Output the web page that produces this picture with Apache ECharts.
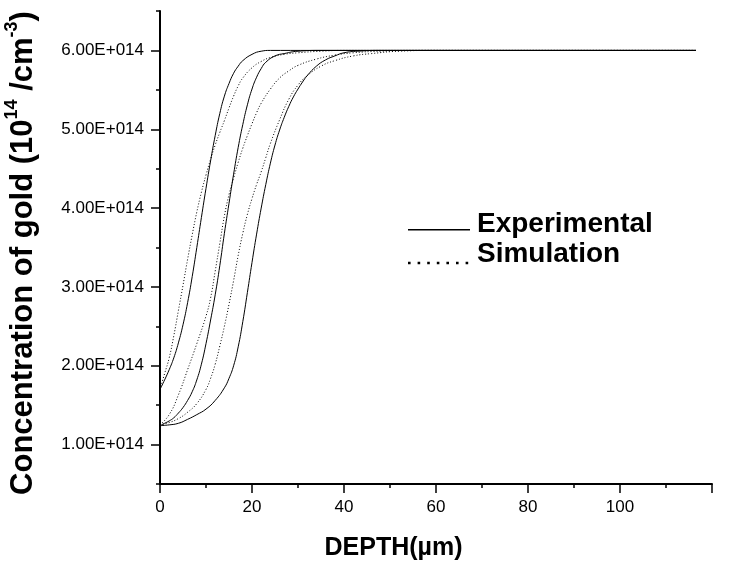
<!DOCTYPE html>
<html>
<head>
<meta charset="utf-8">
<script src="https://cdn.jsdelivr.net/npm/echarts@6/dist/echarts.min.js"></script>
<style>html,body{margin:0;padding:0;background:#fff}#c{width:744px;height:565px}</style>
</head>
<body>
<div id="c"></div>
<script>
// ---- data (concentration in units of 1e14 /cm^3, depth in µm) ----
const xTickValues = [0, 20, 40, 60, 80, 100];
const yTickValues = [1, 2, 3, 4, 5, 6];
const yMinorTickValues = [0.5, 1.5, 2.5, 3.5, 4.5, 5.5, 6.5];

const exp1Depth = [0,1,2,3,4,5,6,7,8,9,10,11,12,13,14,15,16,17,18,20,22,24,116.5];
const exp1Conc  = [1.70,1.82,1.95,2.10,2.29,2.52,2.80,3.13,3.50,3.88,4.25,4.60,4.92,5.20,5.42,5.58,5.71,5.80,5.87,5.95,5.99,6.00,6.00];

const sim1Depth = [0,1,2,3,4,5,6,7,8,9,10,11,12,13,14,15,16,17,18,20,22,24,27,30,35,40,116.5];
const sim1Conc  = [1.70,1.90,2.10,2.38,2.70,3.02,3.35,3.66,3.95,4.20,4.42,4.62,4.80,4.96,5.11,5.27,5.42,5.55,5.65,5.78,5.86,5.91,5.95,5.97,5.99,6.00,6.00];

const exp2Depth = [0,1,2,3,4,5,6,7,8,9,10,11,12,13,14,15,16,17,18,19,20,21,22,23,25,27,30,35,116.5];
const exp2Conc  = [1.24,1.27,1.30,1.34,1.40,1.47,1.56,1.67,1.82,2.02,2.28,2.58,2.90,3.27,3.68,4.06,4.43,4.77,5.06,5.31,5.51,5.66,5.77,5.85,5.93,5.96,5.99,6.00,6.00];

const sim2Depth = [0,2,4,6,8,10,11,12,13,14,15,16,17,18,19,20,21,22,24,26,28,30,34,38,42,48,55,116.5];
const sim2Conc  = [1.25,1.38,1.63,1.95,2.28,2.63,2.86,3.20,3.55,3.90,4.17,4.38,4.58,4.76,4.92,5.07,5.21,5.33,5.51,5.65,5.74,5.81,5.89,5.94,5.97,5.99,6.00,6.00];

const exp3Depth = [0,2,4,6,8,10,12,14,15,16,17,18,19,20,21,22,23,24,25,26,27,28,29,30,31,32,34,36,38,40,43,48,116.5];
const exp3Conc  = [1.24,1.25,1.27,1.32,1.38,1.45,1.56,1.72,1.84,2.00,2.24,2.56,2.93,3.31,3.67,4.00,4.30,4.57,4.80,4.99,5.15,5.29,5.41,5.51,5.60,5.68,5.80,5.88,5.93,5.97,5.99,6.00,6.00];

const sim3Depth = [0,2,4,6,8,10,11,12,13,14,15,16,17,18,19,20,21,22,23,24,26,28,30,32,35,38,42,46,52,60,116.5];
const sim3Conc  = [1.25,1.28,1.33,1.41,1.52,1.70,1.84,2.02,2.25,2.50,2.78,3.08,3.40,3.68,3.92,4.12,4.30,4.46,4.64,4.82,5.12,5.38,5.56,5.68,5.80,5.87,5.93,5.96,5.99,6.00,6.00];

// ---- build ----
const zip = (xs, ys) => xs.map((x, i) => [x, ys[i]]);
const FONT = 'Liberation Sans';

function lineSeries(name, xs, ys, dotted) {
  return {
    type: 'line', name: name, data: zip(xs, ys),
    xAxisIndex: 0, yAxisIndex: 0,
    showSymbol: false, symbol: 'none',
    smooth: 0.5,
    silent: true,
    lineStyle: { color: '#000', width: 1, type: dotted ? [1, 2] : 'solid' },
    itemStyle: { color: '#000' }
  };
}

const chart = echarts.init(document.getElementById('c'), null, { renderer: 'canvas' });
chart.setOption({
  animation: false,
  backgroundColor: '#fff',
  textStyle: { fontFamily: FONT, color: '#000' },
  grid: { left: 160, right: 32, top: 11, bottom: 81, containLabel: false, outerBoundsMode: 'none' },
  legend: [
    {
      data: ['Experimental'], left: 406, top: 210, padding: 0,
      itemWidth: 66, itemHeight: 26, symbolKeepAspect: false,
      icon: 'path://M0,0M2,18h62v1.4h-62zM66,26',
      itemStyle: { color: '#000', borderWidth: 0 },
      lineStyle: { width: 0 },
      textStyle: { fontFamily: FONT, fontSize: 28, fontWeight: 'bold', color: '#000' },
      selectedMode: false
    },
    {
      data: ['Simulation'], left: 406, top: 240, padding: 0,
      itemWidth: 66, itemHeight: 26, symbolKeepAspect: false,
      icon: 'path://M0,0M2,20.7h2.6v2.6h-2.6zM11.6,20.7h2.6v2.6h-2.6zM21.2,20.7h2.6v2.6h-2.6zM30.8,20.7h2.6v2.6h-2.6zM40.4,20.7h2.6v2.6h-2.6zM50,20.7h2.6v2.6h-2.6zM59.6,20.7h2.6v2.6h-2.6zM66,26',
      itemStyle: { color: '#000', borderWidth: 0 },
      lineStyle: { width: 0 },
      textStyle: { fontFamily: FONT, fontSize: 28, fontWeight: 'bold', color: '#000' },
      selectedMode: false
    }
  ],
  xAxis: {
    type: 'value', min: 0, max: 120, interval: 20,
    name: 'DEPTH(µm)', nameLocation: 'middle', nameGap: 52,
    nameTextStyle: { fontFamily: FONT, fontSize: 25, fontWeight: 'bold', color: '#000', padding: [0, 85, 0, 0] },
    axisLine: { show: true, onZero: false, lineStyle: { color: '#000', width: 2 } },
    axisTick: { show: true, inside: false, length: 9, lineStyle: { color: '#000', width: 1.5 } },
    minorTick: { show: true, splitNumber: 2, length: 4, lineStyle: { color: '#000', width: 1.5 } },
    axisLabel: {
      margin: 15, fontFamily: FONT, fontSize: 17, color: '#000',
      formatter: v => (xTickValues.indexOf(v) >= 0 ? String(v) : '')
    },
    splitLine: { show: false }
  },
  yAxis: [
    {
      type: 'value', min: 0.5, max: 6.5, position: 'left',
      name: 'Concentration of gold (10{sup|14} /cm{sup|-3})',
      nameLocation: 'middle', nameGap: 117, nameRotate: 90,
      nameTextStyle: {
        fontFamily: FONT, fontSize: 31, fontWeight: 'bold', color: '#000', lineHeight: 40,
        padding: [0, 11, 0, 0],
        rich: { sup: { fontFamily: FONT, fontSize: 18, fontWeight: 'bold', color: '#000', verticalAlign: 'top', lineHeight: 18 } }
      },
      axisLine: { show: true, onZero: false, lineStyle: { color: '#000', width: 2 } },
      axisTick: { show: true, inside: false, length: 9, customValues: yTickValues, lineStyle: { color: '#000', width: 1.5 } },
      axisLabel: {
        margin: 16, fontFamily: FONT, fontSize: 17, color: '#000',
        customValues: yTickValues,
        formatter: v => v.toFixed(2) + 'E+014'
      },
      splitLine: { show: false }
    },
    {
      type: 'value', min: 0.5, max: 6.5, position: 'left', offset: 0,
      axisLine: { show: false },
      axisTick: { show: true, inside: false, length: 4, customValues: yMinorTickValues, lineStyle: { color: '#000', width: 1.5 } },
      axisLabel: { show: false },
      splitLine: { show: false }
    }
  ],
  series: [
    lineSeries('Experimental', exp1Depth, exp1Conc, false),
    lineSeries('Simulation', sim1Depth, sim1Conc, true),
    lineSeries('Experimental', exp2Depth, exp2Conc, false),
    lineSeries('Simulation', sim2Depth, sim2Conc, true),
    lineSeries('Experimental', exp3Depth, exp3Conc, false),
    lineSeries('Simulation', sim3Depth, sim3Conc, true)
  ]
});
</script>
</body>
</html>
